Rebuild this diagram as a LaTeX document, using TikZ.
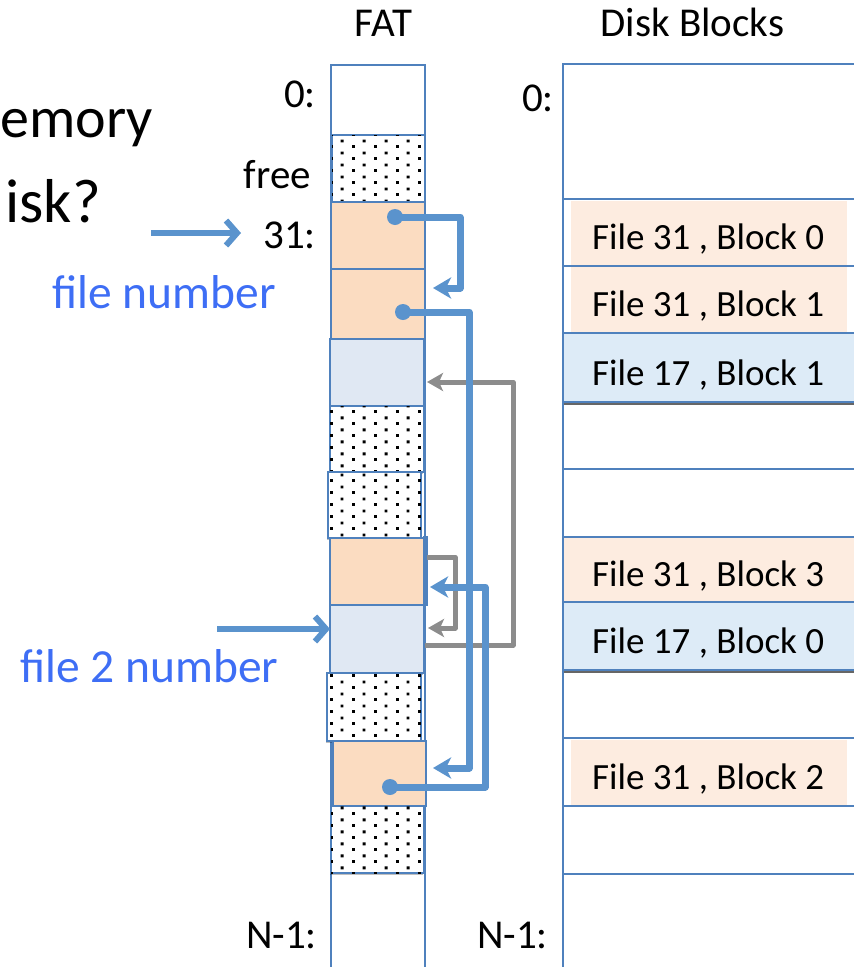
\documentclass[tikz,border=0pt]{standalone}
\usepackage{fontspec}
\setmainfont{Carlito}
\usetikzlibrary{arrows.meta,shadows,patterns.meta}

\definecolor{lineblue}{RGB}{79,129,189}
\definecolor{arrowblue}{RGB}{90,147,205}
\definecolor{arrowgray}{RGB}{140,140,140}
\definecolor{fatorange}{RGB}{251,220,193}
\definecolor{fatblue}{RGB}{224,232,243}
\definecolor{diskorange}{RGB}{253,236,224}
\definecolor{diskblue}{RGB}{221,235,247}
\definecolor{labelblue}{RGB}{62,110,245}

% staggered dot fill used for free FAT entries
\pgfdeclarepattern{
  name=cellDots, type=uncolored,
  bottom left={\pgfpoint{0pt}{0pt}}, top right={\pgfpoint{22pt}{11.5pt}},
  tile size={\pgfpoint{22pt}{11.5pt}},
  code={
    \pgfpathrectangle{\pgfpoint{0pt}{0pt}}{\pgfpoint{3pt}{3pt}}
    \pgfpathrectangle{\pgfpoint{11pt}{5.75pt}}{\pgfpoint{3pt}{3pt}}
    \pgfusepath{fill}
  }}

\tikzset{
  cellsize/.style 2 args={minimum width=#1pt, minimum height=#2pt},
  cell/.style={draw=lineblue, line width=2.6pt, inner sep=0pt, outer sep=0pt,
    drop shadow={shadow xshift=-1pt, shadow yshift=-1.5pt, opacity=0.25, fill=black}},
  orangecell/.style={cell, fill=fatorange},
  bluecell/.style={cell, fill=fatblue},
  dotcell/.style={cell, fill=white, postaction={pattern=cellDots, pattern color=black}},
  diskfill/.style={inner sep=0pt, outer sep=0pt, fill=diskorange},
  diskrow/.style={draw=lineblue, line width=2.2pt, inner sep=0pt, outer sep=0pt, fill=diskblue,
    drop shadow={shadow xshift=-1.5pt, shadow yshift=-2.5pt, opacity=0.6, fill=black}},
  colline/.style={draw=lineblue, line width=2.2pt},
  lbl/.style={inner sep=0pt, font=\fontsize{41}{49}\selectfont},
  bigtxt/.style={inner sep=0pt, font=\fontsize{58}{70}\selectfont},
  bluetxt/.style={inner sep=0pt, text=labelblue, font=\fontsize{47.5}{57}\selectfont},
  disktxt/.style={inner sep=0pt, anchor=base west, font=\fontsize{37}{44}\selectfont},
  pointer/.style={draw=arrowblue, line width=6pt, -{Straight Barb[length=11pt, width=25pt]}},
  bluechain/.style={draw=arrowblue, line width=7pt, line join=round,
    -{Stealth[length=18pt, width=21pt, inset=5pt]}},
  graychain/.style={draw=arrowgray, line width=5pt, line join=round,
    -{Stealth[length=16pt, width=18pt, inset=4pt]}},
  chaindot/.style={circle, fill=arrowblue, inner sep=0pt, minimum size=16pt},
}

\begin{document}
\begin{tikzpicture}[x=1pt, y=-1pt]
\useasboundingbox (0,0) rectangle (854,967);
\clip (0,0) rectangle (854,967);

% headings
\node[lbl, anchor=base] (fathead) at (383.5,36) {FAT};
\node[lbl, anchor=base] (diskhead) at (692.5,36) {Disk Blocks};

% question text at the left
\node[bigtxt, anchor=base east] (qmem) at (153,137) {emory};
\node[bigtxt, anchor=base east, font=\fontsize{62}{74}\selectfont] (qdisk) at (101,222) {isk?};

% FAT column outline
\draw[colline] (331,990) -- (331,65) -- (425,65) -- (425,990);

% FAT entries
\node[dotcell, cellsize={93}{67}] (ffree) at (378.5,168.5) {};
\node[orangecell, cellsize={94}{67}] (f31a) at (378,235.5) {};
\node[orangecell, cellsize={94}{70}] (f31b) at (378,304) {};
\node[bluecell, cellsize={94}{67}] (f17b) at (377,372.5) {};
\node[dotcell, cellsize={94}{66}] (fdota) at (377,439) {};
\node[dotcell, cellsize={93}{66}] (fdotb) at (374.5,505) {};
\node[orangecell, cellsize={94}{67}] (f31d) at (377,571.5) {};
\node[draw=lineblue, line width=1.4pt, inner sep=0pt, minimum width=3pt, minimum height=68pt] (f31dedge) at (425.5,571) {};
\node[bluecell, cellsize={94}{68}] (f17a) at (377,639) {};
\node[dotcell, cellsize={94}{68}] (fdotc) at (374,707) {};
\node[orangecell, cellsize={93}{65}] (f31c) at (379.5,773.5) {};
\node[dotcell, cellsize={93}{67}] (fdotd) at (377.5,839.5) {};

% FAT index labels
\node[lbl, anchor=base east] (fat0) at (316,107) {0:};
\node[lbl, anchor=base east] (fatfreelbl) at (311,188) {free};
\node[lbl, anchor=base east] (fat31) at (316,248) {31:};
\node[lbl, anchor=base east] (fatlast) at (317,948) {N-1:};

% disk block column
\node[diskfill, cellsize={276}{65}] (d31a) at (709,233.5) {};
\node[diskfill, cellsize={276}{66}] (d31b) at (709,300) {};
\node[diskrow, cellsize={297}{69}] (d17b) at (711.5,367.5) {};
\node[diskfill, cellsize={297}{65}] (d31d) at (711.5,569.5) {};
\node[diskrow, cellsize={297}{68}] (d17a) at (711.5,636) {};
\node[diskfill, cellsize={276}{66}] (d31c) at (709,773) {};

\draw[colline] (563,990) -- (563,64) -- (870,64);
\foreach \yy in {199,266,333,402,469,537,602,670,738,806,874}
  \draw[colline] (563,\yy) -- (870,\yy);

\node[disktxt] (t31a) at (592,249) {File 31 , Block 0};
\node[disktxt] (t31b) at (592,316) {File 31 , Block 1};
\node[disktxt] (t17b) at (592,385) {File 17 , Block 1};
\node[disktxt] (t31d) at (592,586) {File 31 , Block 3};
\node[disktxt] (t17a) at (592,653) {File 17 , Block 0};
\node[disktxt] (t31c) at (592,789) {File 31 , Block 2};

\node[lbl, anchor=base east] (disk0) at (554,111) {0:};
\node[lbl, anchor=base east] (disklast) at (548,948) {N-1:};

% file number pointers
\node[bluetxt, anchor=base west] (fnum) at (52,308) {file number};
\node[bluetxt, anchor=base west] (fnum2) at (20,682) {file 2 number};
\coordinate (fnsrc) at (151,233);
\coordinate (fntip) at (241,233);
\draw[pointer] (fnsrc) -- (fntip);
\coordinate (fn2src) at (217,629);
\draw[pointer] (fn2src) -- (fn2src -| f17a.west);

% chain of file 17 (gray)
\coordinate (g1s) at (425,645);
\coordinate (g1t) at (427,382);
\draw[graychain] (g1s) -- ++(88,0) |- (g1t);
\coordinate (g2s) at (427,557);
\coordinate (g2t) at (428,628);
\draw[graychain] (g2s) -- ++(28,0) |- (g2t);

% chain of file 31 (blue)
\node[chaindot] (c1) at (395,217) {};
\coordinate (c1t) at (433,288);
\draw[bluechain] (c1.center) -- ++(65,0) |- (c1t);
\node[chaindot] (c2) at (403,312) {};
\coordinate (c2t) at (433,768);
\draw[bluechain] (c2.center) -- ++(66,0) |- (c2t);
\node[chaindot] (c3) at (390,787) {};
\coordinate (c3t) at (430,587);
\draw[bluechain] (c3.center) -- ++(95,0) |- (c3t);
\end{tikzpicture}
\end{document}
